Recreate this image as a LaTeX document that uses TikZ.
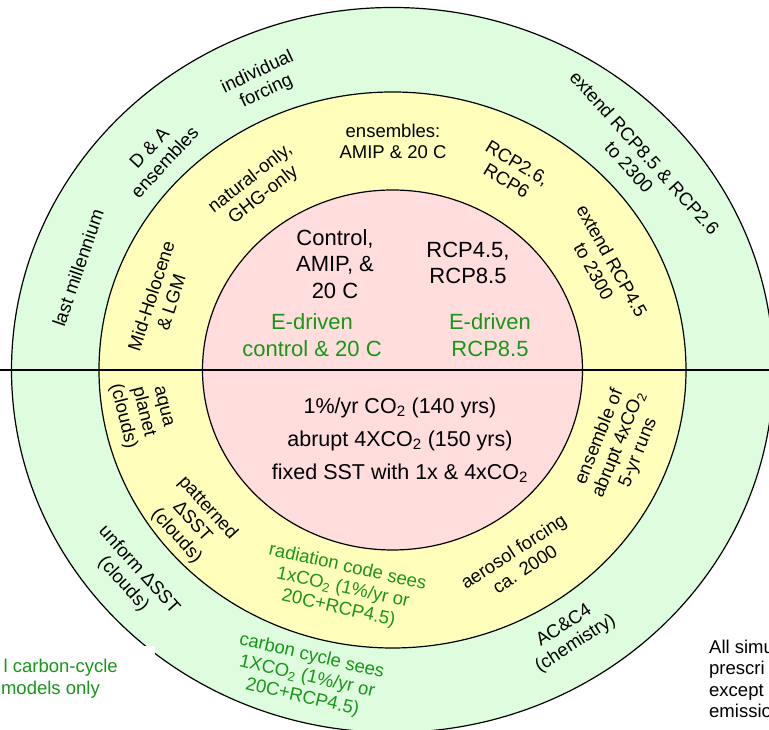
\documentclass[tikz,border=0pt]{standalone}
\usepackage{fontspec}
\setmainfont{Liberation Sans}
\definecolor{ringgreen}{RGB}{222,253,222}
\definecolor{ringyellow}{RGB}{255,255,187}
\definecolor{ringpink}{RGB}{255,221,221}
\definecolor{edriven}{RGB}{25,150,25}
\begin{document}
\begin{tikzpicture}[x=1pt, y=1pt,
    ring/.style={align=center, font=\fontsize{18.5}{21}\selectfont},
    core/.style={align=center, font=\fontsize{22}{26.5}\selectfont},
    side/.style={inner sep=0pt, font=\fontsize{18.5}{21.5}\selectfont}]
    % ফ্রেম এবং কেন্দ্র
    \clip (0,0) rectangle (769,730);
    \coordinate (M) at (392.5, 360);
    \coordinate (L) at (0, 360);
    \coordinate (R) at (769, 360);

    % তিনটি বৃত্ত (বাইরে থেকে ভিতরে)
    \draw[line width=1.2pt, fill=ringgreen] (M) ellipse [x radius=381, y radius=362.5];
    \draw[line width=1.2pt, fill=ringyellow] (M) ellipse [x radius=293.5, y radius=278];
    \draw[line width=1.2pt, fill=ringpink] (M) ellipse [x radius=190, y radius=180];

    % অনুভূমিক রেখা
    \draw[line width=1.8pt] (L) -- (R);

    % বাম নিচের লেবেলের সাদা পটভূমি
    \fill[white] (-5,-5) rectangle (155,84);

    % বাইরের বলয় (উপরের অর্ধেক)
    \node[ring, rotate=71] (lm) at (78,462) {last millennium};
    \node[ring, rotate=47] (da) at (157,575) {D \& A\\ensembles};
    \node[ring, rotate=25] (indiv) at (262,648) {individual\\forcing};
    \node[ring, rotate=-48] (ext85) at (637,570) {extend RCP8.5 \& RCP2.6\\to 2300};

    % মাঝের বলয় (উপরের অর্ধেক)
    \node[ring, rotate=72] (mh) at (161,431) {Mid-Holocene\\\& LGM};
    \node[ring, rotate=38] (nat) at (257,543) {natural-only,\\GHG-only};
    \node[ring] (ens) at (393,589) {ensembles:\\AMIP \& 20 C};
    \node[ring, rotate=-31] (rcp26) at (512,558) {RCP2.6,\\RCP6};
    \node[ring, rotate=-61] (ext45) at (603,464) {extend RCP4.5\\to 2300};

    % ভিতরের বৃত্ত
    \node[core] (ctrl) at (335,466) {Control,\\AMIP, \&\\20 C};
    \node[core, text=edriven] (ectrl) at (312,395) {E-driven\\control \& 20 C};
    \node[core] (rcp45) at (468,467) {RCP4.5,\\RCP8.5};
    \node[core, text=edriven] (e85) at (490,395) {E-driven\\RCP8.5};
    \node[align=center, font=\fontsize{21.5}{33}\selectfont] (co2) at (400,290)
        {1\%/yr CO\textsubscript{2} (140 yrs)\\abrupt 4XCO\textsubscript{2} (150 yrs)\\fixed SST with 1x \& 4xCO\textsubscript{2}};

    % মাঝের বলয় (নিচের অর্ধেক)
    \node[ring, rotate=-76] (aqua) at (142,318) {aqua\\planet\\(clouds)};
    \node[ring, rotate=-48] (patt) at (192,208) {patterned\\ΔSST\\(clouds)};
    \node[ring, rotate=-12.5, text=edriven] (rad) at (343,142) {radiation code sees\\1xCO\textsubscript{2} (1\%/yr or\\20C+RCP4.5)};
    \node[ring, rotate=33] (aer) at (519,170) {aerosol forcing\\ca. 2000};
    \node[ring, rotate=68] (abr) at (619,285) {ensemble of\\abrupt 4xCO\textsubscript{2}\\5-yr runs};

    % বাইরের বলয় (নিচের অর্ধেক)
    \node[ring, rotate=-48] (unif) at (131,153) {unform ΔSST\\(clouds)};
    \node[ring, rotate=-13, text=edriven] (carb) at (307,53) {carbon cycle sees\\1XCO\textsubscript{2} (1\%/yr or\\20C+RCP4.5)};
    \node[ring, rotate=33] (chem) at (570,95) {AC\&C4\\(chemistry)};

    % বৃত্তের বাইরের লেখা
    \node[side, text=edriven, anchor=east] (cc1) at (118,62) {l carbon-cycle};
    \node[side, text=edriven, anchor=east] (cc2) at (100,40) {models only};
    \node[side, align=left, anchor=west] (allsim) at (709,51) {All simu\\prescri\\except\\emissio};
\end{tikzpicture}
\end{document}
